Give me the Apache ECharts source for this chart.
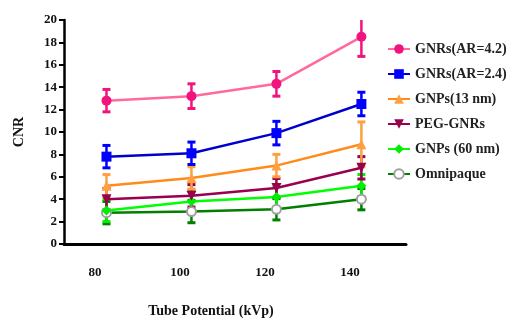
<!DOCTYPE html>
<html>
<head>
<meta charset="utf-8">
<script src="https://cdn.jsdelivr.net/npm/echarts@6/dist/echarts.min.js"></script>
<style>
  html, body { margin: 0; padding: 0; background: #fff; overflow: hidden; }
  #chart { width: 523px; height: 323px; }
</style>
</head>
<body>
<div id="chart"></div>
<script>
// tube potential (points sit a little right of the tick labels)
var kvp = [82, 102, 122, 142];
var xTicks = [80, 100, 120, 140];

var names = ['GNRs(AR=4.2)', 'GNRs(AR=2.4)', 'GNPs(13 nm)', 'PEG-GNRs', 'GNPs (60 nm)', 'Omnipaque'];

var gnr42 = [12.8, 13.2, 14.3, 18.5];
var gnr42Err = [1.0, 1.1, 1.1, 1.75];
var gnr24 = [7.8, 8.1, 9.9, 12.5];
var gnr24Err = [1.0, 1.0, 1.05, 1.05];
var gnp13 = [5.2, 5.9, 7.0, 8.9];
var gnp13Err = [1.0, 1.0, 1.0, 2.0];
var peg = [4.0, 4.3, 5.0, 6.8];
var pegErr = [0.95, 1.0, 0.85, 1.0];
var gnp60 = [3.0, 3.8, 4.2, 5.2];
var gnp60Err = [1.0, 1.0, 1.0, 1.0];
var omni = [2.8, 2.9, 3.1, 4.0];
var omniErr = [1.0, 1.0, 0.95, 0.95];

var font = '"Liberation Serif", "Times New Roman", serif';

function pairs(vals) {
  return vals.map(function (v, i) { return [kvp[i], v]; });
}
function errs(vals, e) {
  return vals.map(function (v, i) { return [kvp[i], v - e[i], v + e[i]]; });
}

function renderErr(params, api) {
  var x = api.value(0);
  var lo = api.coord([x, api.value(1)]);
  var hi = api.coord([x, api.value(2)]);
  var c = api.visual('color');
  var w = 4;
  return {
    type: 'group',
    children: [
      { type: 'line', shape: { x1: lo[0], y1: lo[1], x2: hi[0], y2: hi[1] }, style: { stroke: c, lineWidth: 2.5 } },
      { type: 'line', shape: { x1: lo[0] - w, y1: lo[1], x2: lo[0] + w, y2: lo[1] }, style: { stroke: c, lineWidth: 3 } },
      { type: 'line', shape: { x1: hi[0] - w, y1: hi[1], x2: hi[0] + w, y2: hi[1] }, style: { stroke: c, lineWidth: 3 } }
    ]
  };
}

function lineSeries(name, vals, lineColor, markColor, symbol, size, extra) {
  var s = {
    name: name,
    type: 'line',
    data: pairs(vals),
    symbol: symbol,
    symbolSize: size,
    z: 3,
    lineStyle: { color: lineColor, width: 2.5 },
    itemStyle: { color: markColor, borderColor: markColor, borderWidth: 0 }
  };
  if (extra) {
    for (var k in extra) s[k] = extra[k];
  }
  return s;
}
function errSeries(vals, e, color) {
  return {
    type: 'custom',
    renderItem: renderErr,
    data: errs(vals, e),
    itemStyle: { color: color },
    clip: true,
    z: 2,
    silent: true
  };
}

var series = [
  errSeries(omni, omniErr, '#007F00'),
  errSeries(gnp60, gnp60Err, '#00EE00'),
  errSeries(peg, pegErr, '#99004D'),
  errSeries(gnp13, gnp13Err, '#FFA040'),
  errSeries(gnr24, gnr24Err, '#0000FF'),
  errSeries(gnr42, gnr42Err, '#F2147E'),
  lineSeries(names[5], omni, '#007F00', '#A0A0A0', 'emptyCircle', 9, {
    itemStyle: { color: '#A0A0A0', borderColor: '#A0A0A0', borderWidth: 2.5 }
  }),
  lineSeries(names[4], gnp60, '#00FF00', '#00EE00', 'diamond', 10),
  lineSeries(names[3], peg, '#99004D', '#99004D', 'path://M0,0 L10,0 L5,10 Z', 10),
  lineSeries(names[2], gnp13, '#FF8C1A', '#FFA040', 'triangle', 10),
  lineSeries(names[1], gnr24, '#0000CC', '#0000FF', 'rect', 10),
  lineSeries(names[0], gnr42, '#FF6A9A', '#F2147E', 'circle', 10)
];

var option = {
  animation: false,
  backgroundColor: '#fff',
  grid: { left: 64, right: 117, top: 20, bottom: 79, containLabel: false },
  legend: {
    data: names,
    orient: 'vertical',
    left: 382,
    top: 37,
    itemWidth: 22,
    itemHeight: 12,
    itemGap: 11,
    textStyle: { fontFamily: font, fontWeight: 'bold', fontSize: 14, color: '#222' }
  },
  xAxis: {
    type: 'value',
    min: 72,
    max: 152.5,
    name: 'Tube Potential (kVp)',
    nameLocation: 'middle',
    nameGap: 60,
    nameTextStyle: { fontFamily: font, fontWeight: 'bold', fontSize: 14, color: '#111', padding: [0, 48, 0, 0] },
    splitLine: { show: false },
    axisLine: { lineStyle: { color: '#000', width: 3 } },
    axisTick: { show: false },
    axisLabel: {
      customValues: xTicks,
      margin: 22,
      padding: [0, 6, 0, 0],
      fontFamily: font, fontWeight: 'bold', fontSize: 13, color: '#111'
    }
  },
  yAxis: {
    type: 'value',
    min: 0,
    max: 20,
    interval: 2,
    name: 'CNR',
    nameLocation: 'middle',
    nameGap: 38,
    nameRotate: 90,
    nameTextStyle: { fontFamily: font, fontWeight: 'bold', fontSize: 14, color: '#111' },
    splitLine: { show: false },
    axisLine: { show: true, lineStyle: { color: '#000', width: 2.5 } },
    axisTick: { show: true, length: 5, lineStyle: { color: '#000', width: 2 } },
    axisLabel: { margin: 7, fontFamily: font, fontWeight: 'bold', fontSize: 13, color: '#111' }
  },
  series: series
};

var myChart = echarts.init(document.getElementById('chart'), null, { width: 523, height: 323 });
myChart.setOption(option);
</script>
</body>
</html>
